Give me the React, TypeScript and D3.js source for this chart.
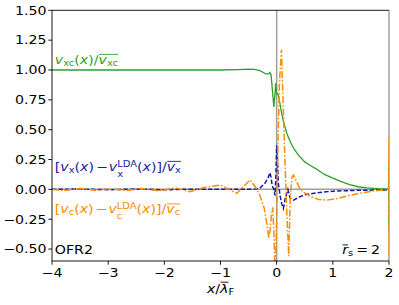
import React, { useRef, useEffect } from 'react';
import * as d3 from 'd3';

const W = 399;
const H = 305;

const xTicks = [-4, -3, -2, -1, 0, 1, 2];
const yTicks = [-0.5, -0.25, 0, 0.25, 0.5, 0.75, 1.0, 1.25, 1.5];
const yTickLabels = ['−0.50', '−0.25', '0.00', '0.25', '0.50', '0.75', '1.00', '1.25', '1.50'];
const xTickLabels = ['−4', '−3', '−2', '−1', '0', '1', '2'];

// v_xc(x) / mean v_xc
const vxcSeries: [number, number][] = [
  [-4, 1.0], [-3, 1.0], [-2, 1.0], [-1.5, 1.0], [-1, 1.0], [-0.7, 1.003], [-0.5, 1.006],
  [-0.4, 1.005], [-0.3, 0.995], [-0.22, 0.975], [-0.18, 0.965], [-0.14, 0.97], [-0.12, 0.98],
  [-0.1, 0.96], [-0.07, 0.8], [-0.05, 0.69], [-0.03, 0.8], [-0.015, 0.89], [0.0, 0.8],
  [0.02, 0.8], [0.04, 0.77], [0.08, 0.66], [0.12, 0.57], [0.18, 0.47], [0.25, 0.39],
  [0.32, 0.33], [0.4, 0.28], [0.5, 0.23], [0.6, 0.2], [0.71, 0.17], [0.85, 0.125],
  [1.0, 0.095], [1.15, 0.065], [1.3, 0.04], [1.45, 0.022], [1.6, 0.013], [1.8, 0.007],
  [1.995, 0.005], [2.0, 0.2], [2.0, -0.35],
];

// [v_x - v_x^LDA] / mean v_x
const vxSeries: [number, number][] = [
  [-4, 0], [-3.5, 0.003], [-3, -0.003], [-2.5, 0.003], [-2, -0.003], [-1.5, 0.002],
  [-1, 0.0], [-0.6, 0.0], [-0.4, 0.0], [-0.3, 0.01], [-0.21, 0.05], [-0.15, 0.1],
  [-0.12, 0.14], [-0.1, 0.1], [-0.08, 0.03], [-0.05, 0.0], [-0.03, -0.05], [-0.015, 0.1],
  [0.0, 0.37], [0.01, 0.3], [0.03, 0.05], [0.06, -0.05], [0.09, -0.12], [0.12, -0.16],
  [0.15, -0.08], [0.2, 0.0], [0.24, -0.075], [0.3, -0.09], [0.4, -0.065], [0.5, -0.045],
  [0.7, -0.03], [1.0, -0.015], [1.5, -0.007], [2.0, -0.005],
];

// [v_c - v_c^LDA] / mean v_c
const vcSeries: [number, number][] = [
  [-4, 0], [-3.8, -0.01], [-3.5, 0.008], [-3.2, -0.008], [-3, 0.006], [-2.7, -0.01],
  [-2.4, 0.008], [-2.1, -0.012], [-1.8, 0.012], [-1.55, -0.02], [-1.3, 0.015], [-1.0, 0.036],
  [-0.85, 0.0], [-0.71, -0.034], [-0.6, 0.02], [-0.47, 0.08], [-0.38, 0.02], [-0.3, -0.05],
  [-0.22, -0.16], [-0.17, -0.3], [-0.14, -0.41], [-0.12, -0.35], [-0.09, -0.2], [-0.07, -0.15],
  [-0.05, -0.35], [-0.03, -0.7], [0.0, -0.3], [0.02, 0.3], [0.05, 0.9], [0.085, 1.17],
  [0.11, 0.8], [0.15, 0.2], [0.19, -0.3], [0.215, -0.56], [0.24, -0.1], [0.27, 0.1],
  [0.3, 0.12], [0.35, 0.07], [0.42, 0.0], [0.5, -0.03], [0.6, -0.06], [0.75, -0.085],
  [0.9, -0.09], [1.1, -0.075], [1.3, -0.05], [1.5, -0.03], [1.7, -0.015], [1.9, -0.005],
  [1.995, 0.0], [2.0, 0.43], [2.0, -0.7],
];

const GREEN = '#2ca02c';
const BLUE = '#1c1c9c';
const ORANGE = '#ff8c00';
const GRAY = '#a0a0a0';

const FS = 12;
const SX = 1.18;
const FONT = 'DejaVu Sans';

type Piece = {
  t: string;
  it?: boolean;
  sub?: boolean;
  sup?: boolean;
  deep?: boolean;
  stack?: boolean;
  over?: string;
  padL?: number;
  padR?: number;
};

function mathText(
  parent: d3.Selection<SVGGElement, unknown, null, undefined>,
  x: number,
  y: number,
  pieces: Piece[],
  color: string,
  anchor: 'start' | 'middle' | 'end' = 'start',
  overY: Record<string, number> = {}
) {
  const g = parent.append('g');
  let cx = 0;
  const overs: Record<string, [number, number]> = {};
  let prevStart = 0;
  let prevW = 0;
  for (const p of pieces) {
    const small = p.sub || p.sup;
    const fs = small ? FS * 0.7 : FS;
    const dy = p.sub ? (p.deep ? FS * 0.5 : FS * 0.2) : p.sup ? -FS * 0.3 : 0;
    if (!p.stack) cx += p.padL || 0;
    const startX = p.stack ? prevStart : cx;
    const t = g
      .append('text')
      .attr('transform', `translate(${startX},${dy}) scale(${SX},1)`)
      .attr('font-size', fs)
      .attr('font-family', FONT)
      .attr('font-style', p.it ? 'italic' : 'normal')
      .attr('fill', color)
      .text(p.t);
    const w = (t.node() as SVGTextElement).getComputedTextLength() * SX;
    if (p.stack) cx = Math.max(prevStart + prevW, startX + w);
    else cx = startX + w;
    cx += p.padR || 0;
    if (p.over) {
      const o = overs[p.over];
      if (o) overs[p.over] = [Math.min(o[0], startX), Math.max(o[1], startX + w)];
      else overs[p.over] = [startX, startX + w];
    }
    prevStart = startX;
    prevW = w;
  }
  for (const k of Object.keys(overs)) {
    const [a, b] = overs[k];
    const oy = overY[k] !== undefined ? overY[k] : -FS * 0.76;
    g.append('line')
      .attr('x1', a + 0.5)
      .attr('x2', b)
      .attr('y1', oy)
      .attr('y2', oy)
      .attr('stroke', color)
      .attr('stroke-width', 0.9);
  }
  const shift = anchor === 'middle' ? -cx / 2 : anchor === 'end' ? -cx : 0;
  g.attr('transform', `translate(${x + shift},${y})`);
}

export default function App() {
  const ref = useRef<SVGSVGElement>(null);

  useEffect(() => {
    const svg = d3.select(ref.current);
    svg.selectAll('*').remove();

    const left = 52, right = 389, top = 10.3, bottom = 261;
    const x = d3.scaleLinear().domain([-4, 2]).range([left, right]);
    const y = d3.scaleLinear().domain([-0.6, 1.5]).range([bottom, top]);

    const root = svg.append('g') as unknown as d3.Selection<SVGGElement, unknown, null, undefined>;

    root.append('defs').append('clipPath').attr('id', 'plotclip')
      .append('rect').attr('x', left).attr('y', top).attr('width', right - left).attr('height', bottom - top);

    // reference lines
    const ref0 = root.append('g').attr('clip-path', 'url(#plotclip)');
    ref0.append('line').attr('x1', left).attr('x2', right).attr('y1', y(0)).attr('y2', y(0))
      .attr('stroke', GRAY).attr('stroke-width', 1.5);
    ref0.append('line').attr('x1', x(0)).attr('x2', x(0)).attr('y1', top).attr('y2', bottom)
      .attr('stroke', GRAY).attr('stroke-width', 1.5);
    root.append('line').attr('x1', x(2)).attr('x2', x(2)).attr('y1', top).attr('y2', bottom)
      .attr('stroke', GRAY).attr('stroke-width', 1.5);

    const line = d3.line<[number, number]>().x(d => x(d[0])).y(d => y(d[1]));
    const plot = root.append('g').attr('clip-path', 'url(#plotclip)');

    plot.append('path').attr('d', line(vxcSeries)).attr('fill', 'none')
      .attr('stroke', GREEN).attr('stroke-width', 1.3);
    plot.append('path').attr('d', line(vxSeries)).attr('fill', 'none')
      .attr('stroke', BLUE).attr('stroke-width', 1.5).attr('stroke-dasharray', '4.5,2');
    plot.append('path').attr('d', line(vcSeries)).attr('fill', 'none')
      .attr('stroke', ORANGE).attr('stroke-width', 1.5).attr('stroke-dasharray', '7,2,1.5,2');

    // spines
    root.append('line').attr('x1', left).attr('x2', left).attr('y1', top).attr('y2', bottom)
      .attr('stroke', '#000').attr('stroke-width', 0.9);
    root.append('line').attr('x1', left).attr('x2', right).attr('y1', bottom).attr('y2', bottom)
      .attr('stroke', '#000').attr('stroke-width', 0.9);
    root.append('line').attr('x1', left).attr('x2', right).attr('y1', top).attr('y2', top)
      .attr('stroke', '#000').attr('stroke-width', 0.9);

    // y ticks
    yTicks.forEach((v, i) => {
      root.append('line').attr('x1', left - 3.7).attr('x2', left).attr('y1', y(v)).attr('y2', y(v))
        .attr('stroke', '#000').attr('stroke-width', 0.9);
      root.append('text')
        .attr('transform', `translate(${left - 5.5},${y(v) + 4.3}) scale(${SX},1)`)
        .attr('text-anchor', 'end').attr('font-size', FS).attr('font-family', FONT).attr('fill', '#000')
        .text(yTickLabels[i]);
    });
    // x ticks
    xTicks.forEach((v, i) => {
      root.append('line').attr('x1', x(v)).attr('x2', x(v)).attr('y1', bottom).attr('y2', bottom + 3.7)
        .attr('stroke', '#000').attr('stroke-width', 0.9);
      root.append('text')
        .attr('transform', `translate(${x(v)},${bottom + 16}) scale(${SX},1)`)
        .attr('text-anchor', 'middle').attr('font-size', FS).attr('font-family', FONT).attr('fill', '#000')
        .text(xTickLabels[i]);
    });

    // x label
    mathText(root, (left + right) / 2, 293, [
      { t: 'x', it: true },
      { t: '/' },
      { t: 'λ', it: true, over: 'l' },
      { t: 'F', sub: true },
    ], '#000', 'middle', { l: -FS * 0.9 });

    // series labels
    mathText(root, x(-3.95), 63.5, [
      { t: 'v', it: true },
      { t: 'xc', sub: true },
      { t: '(' }, { t: 'x', it: true }, { t: ')' },
      { t: '/' },
      { t: 'v', it: true, over: 'a' },
      { t: 'xc', sub: true, over: 'a' },
    ], GREEN);

    mathText(root, x(-3.95), 170.5, [
      { t: '[' },
      { t: 'v', it: true },
      { t: 'x', sub: true },
      { t: '(' }, { t: 'x', it: true }, { t: ')' },
      { t: '−', padL: 2, padR: 1 },
      { t: 'v', it: true },
      { t: 'LDA', sup: true },
      { t: 'x', sub: true, deep: true, stack: true },
      { t: '(' }, { t: 'x', it: true }, { t: ')]' },
      { t: '/' },
      { t: 'v', it: true, over: 'a' },
      { t: 'x', sub: true, over: 'a' },
    ], BLUE);

    mathText(root, x(-3.95), 213, [
      { t: '[' },
      { t: 'v', it: true },
      { t: 'c', sub: true },
      { t: '(' }, { t: 'x', it: true }, { t: ')' },
      { t: '−', padL: 2, padR: 1 },
      { t: 'v', it: true },
      { t: 'LDA', sup: true },
      { t: 'c', sub: true, deep: true, stack: true },
      { t: '(' }, { t: 'x', it: true }, { t: ')]' },
      { t: '/' },
      { t: 'v', it: true, over: 'a' },
      { t: 'c', sub: true, over: 'a' },
    ], ORANGE);

    mathText(root, x(-3.95), 253.5, [{ t: 'OFR2' }], '#000');

    mathText(root, 380, 254, [
      { t: 'r', it: true, over: 'r' },
      { t: 's', sub: true },
      { t: '=', padL: 3, padR: 3 },
      { t: '2' },
    ], '#000', 'end');
  }, []);

  return (
    <svg
      ref={ref}
      width={W}
      height={H}
      viewBox={`0 0 ${W} ${H}`}
      style={{ position: 'absolute', left: 0, top: 0, display: 'block', background: '#fff' }}
    />
  );
}
